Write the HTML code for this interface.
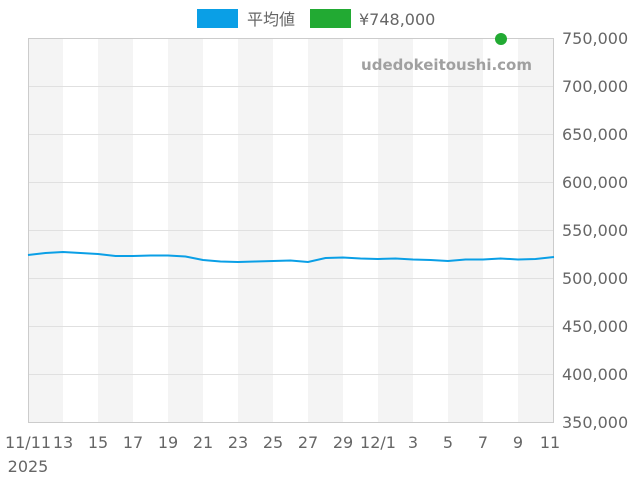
<!DOCTYPE html>
<html><head><meta charset="utf-8"><style>
body{margin:0;background:#fff}
svg text{font-family:"DejaVu Sans","Liberation Sans","Noto Sans CJK JP",sans-serif;fill:#666;font-size:16px}
</style></head><body>
<svg width="640" height="480" xmlns="http://www.w3.org/2000/svg">
<g fill="#f4f4f4">
<rect x="28" y="38" width="35" height="384"/><rect x="98" y="38" width="35" height="384"/>
<rect x="168" y="38" width="35" height="384"/><rect x="238" y="38" width="35" height="384"/>
<rect x="308" y="38" width="35" height="384"/><rect x="378" y="38" width="35" height="384"/>
<rect x="448" y="38" width="35" height="384"/><rect x="518" y="38" width="36" height="384"/>
</g>
<g stroke="#e0e0e0" stroke-width="1">
<line x1="28" x2="554" y1="86.5" y2="86.5"/><line x1="28" x2="554" y1="134.5" y2="134.5"/>
<line x1="28" x2="554" y1="182.5" y2="182.5"/><line x1="28" x2="554" y1="230.5" y2="230.5"/>
<line x1="28" x2="554" y1="278.5" y2="278.5"/><line x1="28" x2="554" y1="326.5" y2="326.5"/>
<line x1="28" x2="554" y1="374.5" y2="374.5"/>
</g>
<rect x="28.5" y="38.5" width="525" height="384" fill="none" stroke="#ccc"/>
<polyline fill="none" stroke="#0a9fe6" stroke-width="2" points="28,255 45.5,253 63,252 80.5,253 98,254 115.5,256 133,256 150.5,255.5 168,255.5 185.5,256.5 203,260 220.5,261.5 238,262 255.5,261.5 273,261 290.5,260.5 308,262 325.5,258 343,257.5 360.5,258.5 378,259 395.5,258.5 413,259.5 430.5,260 448,261 465.5,259.5 483,259.5 500.5,258.5 518,259.5 535.5,259 554,257"/>
<circle cx="501" cy="39" r="6" fill="#22aa33"/>
<text x="532" y="70" text-anchor="end" style="font-weight:bold;fill:#a0a0a0;font-size:15px">udedokeitoushi.com</text>
<rect x="197" y="9" width="41" height="19" fill="#0a9fe6"/>
<text x="247" y="25">平均値</text>
<rect x="310" y="9" width="41" height="19" fill="#22aa33"/>
<text x="359" y="25">¥748,000</text>
<g text-anchor="start">
<text x="562" y="44">750,000</text><text x="562" y="92">700,000</text><text x="562" y="140">650,000</text>
<text x="562" y="188">600,000</text><text x="562" y="236">550,000</text><text x="562" y="284">500,000</text>
<text x="562" y="332">450,000</text><text x="562" y="380">400,000</text><text x="562" y="428">350,000</text>
</g>
<g text-anchor="middle">
<text x="28" y="448">11/11</text><text x="63" y="448">13</text><text x="98" y="448">15</text>
<text x="133" y="448">17</text><text x="168" y="448">19</text><text x="203" y="448">21</text>
<text x="238" y="448">23</text><text x="273" y="448">25</text><text x="308" y="448">27</text>
<text x="343" y="448">29</text><text x="378" y="448">12/1</text><text x="413" y="448">3</text>
<text x="448" y="448">5</text><text x="483" y="448">7</text><text x="518" y="448">9</text>
<text x="550" y="448">11</text><text x="28" y="472">2025</text>
</g>
</svg>
</body></html>
